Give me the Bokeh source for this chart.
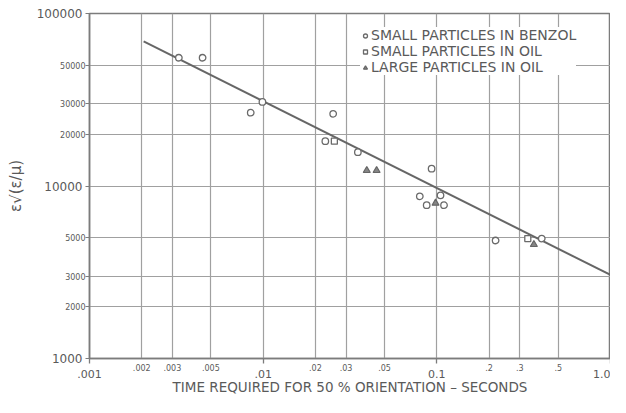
from bokeh.plotting import figure
from bokeh.models import LogAxis, FixedTicker, Legend, LegendItem
from bokeh.embed import file_html
from bokeh.resources import INLINE

# ---- data ----
benzol_x = [0.00327, 0.00448, 0.0099, 0.00848, 0.0253, 0.0228, 0.0351, 0.0933,
            0.0798, 0.0874, 0.105, 0.110, 0.218, 0.402]
benzol_y = [55400, 55400, 30700, 26600, 26200, 18200, 15700, 12600,
            8710, 7740, 8830, 7740, 4830, 4960]
oil_small_x = [0.0257, 0.334]
oil_small_y = [18200, 4960]
oil_large_x = [0.0395, 0.045, 0.0983, 0.362]
oil_large_y = [12300, 12300, 7950, 4580]
fit_x = [0.00205, 1.0]
fit_y = [69000, 3050]

x_major = [0.001, 0.01, 0.1, 1.0]
x_major_labels = [".001", ".01", "0.1", "1.0"]
x_minor = [0.002, 0.003, 0.005, 0.02, 0.03, 0.05, 0.2, 0.3, 0.5]
x_minor_labels = [".002", ".003", ".005", ".02", ".03", ".05", ".2", ".3", ".5"]
y_major = [1000, 10000, 100000]
y_major_labels = ["1000", "10000", "100000"]
y_minor = [2000, 3000, 5000, 20000, 30000, 50000]
y_minor_labels = ["2000", "3000", "5000", "20000", "30000", "50000"]

legend_labels = ["SMALL PARTICLES IN BENZOL", "SMALL PARTICLES IN OIL", "LARGE PARTICLES IN OIL"]
x_title = "TIME REQUIRED FOR 50 % ORIENTATION \u2013 SECONDS"
y_title = "\u03b5\u221a(\u03b5/\u03bc)"

FONT = "DejaVu Sans"
TXT = "#5a5a5a"
AX = "#7c7c7c"
GRID = "#a0a0a0"

p = figure(width=610, height=397, x_axis_type="log", y_axis_type="log",
           x_range=(x_major[0], x_major[-1]), y_range=(y_major[0], y_major[-1]),
           x_axis_location=None, y_axis_location=None,
           output_backend="svg", toolbar_location=None,
           min_border_left=89, min_border_right=0, min_border_top=13, min_border_bottom=38)
p.outline_line_color = AX
p.outline_line_width = 1.5
p.background_fill_color = "white"

p.xgrid.ticker = FixedTicker(ticks=sorted(x_major + x_minor))
p.ygrid.ticker = FixedTicker(ticks=sorted(y_major + y_minor))
for g in (p.xgrid, p.ygrid):
    g.grid_line_color = GRID
    g.grid_line_width = 1.2

# bottom axes: small intermediate labels next to the frame, decade labels below them
ax1 = LogAxis(ticker=FixedTicker(ticks=x_minor, minor_ticks=x_major),
              major_label_overrides=dict(zip(x_minor, x_minor_labels)),
              major_tick_out=0, major_tick_in=0, minor_tick_out=5, minor_tick_in=0,
              minor_tick_line_color=AX, minor_tick_line_width=1.3,
              major_label_standoff=0, major_label_text_font_size="8px",
              major_label_text_font=FONT, major_label_text_color=TXT,
              axis_line_color=AX, axis_line_width=1.5)
p.add_layout(ax1, "below")
ax2 = LogAxis(ticker=FixedTicker(ticks=x_major),
              major_label_overrides=dict(zip(x_major, x_major_labels)),
              major_tick_out=0, major_tick_in=0, minor_tick_out=0, minor_tick_in=0,
              major_tick_line_color=None, minor_tick_line_color=None,
              major_label_standoff=-4, major_label_text_font_size="11px",
              major_label_text_font=FONT, major_label_text_color=TXT,
              axis_line_color=None,
              axis_label=x_title, axis_label_standoff=-2,
              axis_label_text_font_size="13.5px", axis_label_text_font_style="normal",
              axis_label_text_font=FONT, axis_label_text_color=TXT)
p.add_layout(ax2, "below")

# left axes: small intermediate labels next to the frame, decade labels drawn over them
ay1 = LogAxis(ticker=FixedTicker(ticks=y_minor, minor_ticks=y_major),
              major_label_overrides=dict(zip(y_minor, y_minor_labels)),
              major_tick_out=4, major_tick_in=0, minor_tick_out=4, minor_tick_in=0,
              major_tick_line_color=AX, minor_tick_line_color=AX,
              major_label_standoff=0, major_label_text_font_size="8px",
              major_label_text_font=FONT, major_label_text_color=TXT,
              axis_line_color=AX, axis_line_width=1.5)
p.add_layout(ay1, "left")
ay2 = LogAxis(ticker=FixedTicker(ticks=y_major),
              major_label_overrides=dict(zip(y_major, y_major_labels)),
              major_tick_out=0, major_tick_in=0, minor_tick_out=0, minor_tick_in=0,
              major_tick_line_color=None, minor_tick_line_color=None,
              major_label_standoff=-25, major_label_text_font_size="12px",
              major_label_text_font=FONT, major_label_text_color=TXT,
              axis_line_color=None,
              axis_label=y_title, axis_label_standoff=9,
              axis_label_text_font_size="15px", axis_label_text_font_style="normal",
              axis_label_text_font=FONT, axis_label_text_color=TXT)
p.add_layout(ay2, "left")

# fitted line
p.line(fit_x, fit_y, line_color="#666666", line_width=2)

r1 = p.scatter(benzol_x, benzol_y, marker="circle", size=6.5, fill_color="white",
               line_color="#6a6a6a", line_width=1.3)
r2 = p.scatter(oil_small_x, oil_small_y, marker="square", size=6, fill_color="white",
               line_color="#6a6a6a", line_width=1.3)
r3 = p.scatter(oil_large_x, oil_large_y, marker="triangle", size=7, fill_color="#858585",
               line_color="#666666", line_width=1.2)

legend = Legend(items=[LegendItem(label=legend_labels[0], renderers=[r1]),
                       LegendItem(label=legend_labels[1], renderers=[r2]),
                       LegendItem(label=legend_labels[2], renderers=[r3])],
                location=(271, 283), background_fill_color="white", background_fill_alpha=1,
                border_line_color=None, label_text_font_size="14px", label_text_font=FONT,
                label_text_color=TXT, glyph_width=10, glyph_height=15, label_height=15,
                label_standoff=1, spacing=0, padding=4, margin=0)
p.add_layout(legend)

open("out.html", "w").write(file_html(p, INLINE))
